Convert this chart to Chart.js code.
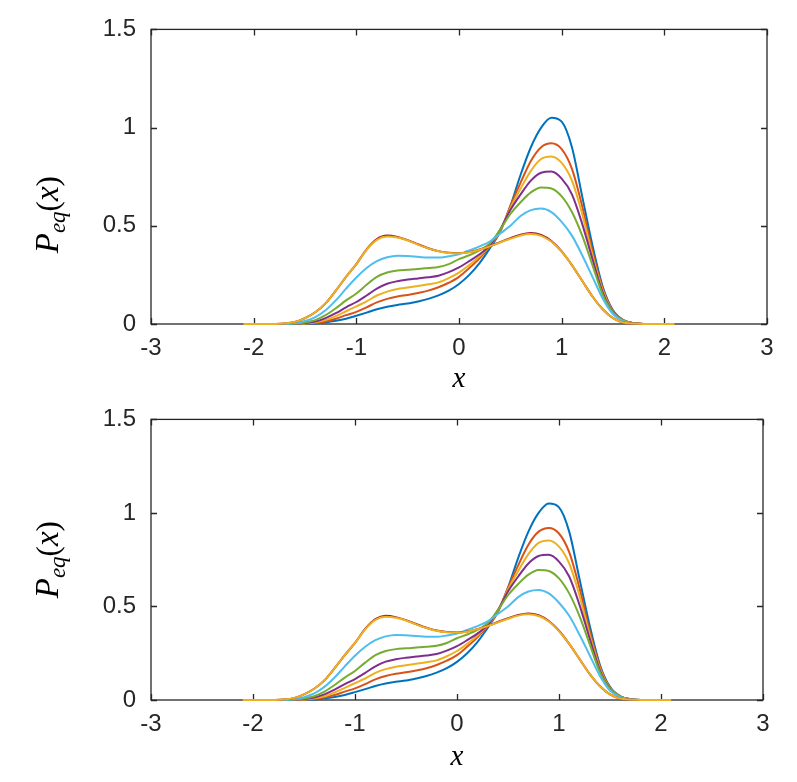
<!DOCTYPE html>
<html>
<head>
<meta charset="utf-8">
<script src="https://cdn.jsdelivr.net/npm/chart.js@4.4.0/dist/chart.umd.min.js"></script>
<style>
  html, body { margin: 0; padding: 0; background: #fff; }
  .panel { position: absolute; left: 0; width: 797px; }
</style>
</head>
<body>
<div class="panel" style="top:0;height:390px"><canvas id="top" width="797" height="390"></canvas></div>
<div class="panel" style="top:390px;height:392px"><canvas id="bottom" width="797" height="392"></canvas></div>
<script>
const xs = [-2.1, -1.9, -1.7, -1.6, -1.5, -1.4, -1.3, -1.2, -1.1, -1.0, -0.9, -0.8, -0.7, -0.6, -0.5, -0.4, -0.3, -0.2, -0.1, 0,
  0.1, 0.2, 0.3, 0.4, 0.5, 0.6, 0.7, 0.8, 0.9, 1.0, 1.1, 1.2, 1.3, 1.4, 1.5, 1.6, 1.7, 1.8, 1.9, 2.1];

const pBlue   = [0, 0, 0, 0.0005, 0.001, 0.003, 0.008, 0.016, 0.027, 0.042, 0.058, 0.075, 0.088, 0.097, 0.104, 0.115, 0.128, 0.146, 0.17, 0.204,
  0.25, 0.31, 0.385, 0.47, 0.6, 0.76, 0.9, 1.0, 1.05, 1.03, 0.9, 0.65, 0.4, 0.19, 0.07, 0.02, 0.004, 0, 0, 0];
const pRed    = [0, 0, 0, 0.001, 0.002, 0.005, 0.013, 0.027, 0.045, 0.062, 0.085, 0.11, 0.128, 0.14, 0.148, 0.158, 0.17, 0.187, 0.21, 0.24,
  0.285, 0.335, 0.395, 0.47, 0.6, 0.72, 0.83, 0.9, 0.92, 0.89, 0.79, 0.6, 0.37, 0.18, 0.065, 0.02, 0.004, 0, 0, 0];
const pYellow = [0, 0, 0, 0.001, 0.003, 0.009, 0.02, 0.04, 0.065, 0.09, 0.115, 0.145, 0.165, 0.178, 0.186, 0.194, 0.202, 0.212, 0.234, 0.262,
  0.3, 0.345, 0.4, 0.475, 0.59, 0.69, 0.78, 0.84, 0.853, 0.82, 0.73, 0.56, 0.35, 0.17, 0.062, 0.02, 0.004, 0, 0, 0];
const pPurple = [0, 0, 0, 0.001, 0.005, 0.013, 0.03, 0.055, 0.085, 0.112, 0.145, 0.18, 0.205, 0.218, 0.226, 0.232, 0.238, 0.246, 0.264, 0.288,
  0.32, 0.355, 0.4, 0.48, 0.58, 0.66, 0.73, 0.77, 0.776, 0.74, 0.66, 0.51, 0.33, 0.16, 0.06, 0.019, 0.004, 0, 0, 0];
const pGreen  = [0, 0, 0, 0.002, 0.008, 0.02, 0.045, 0.08, 0.12, 0.155, 0.2, 0.24, 0.262, 0.272, 0.276, 0.28, 0.285, 0.29, 0.305, 0.33,
  0.35, 0.375, 0.41, 0.48, 0.56, 0.62, 0.67, 0.695, 0.69, 0.65, 0.57, 0.45, 0.3, 0.15, 0.058, 0.018, 0.004, 0, 0, 0];
const pCyan   = [0, 0, 0, 0.004, 0.015, 0.035, 0.07, 0.12, 0.18, 0.237, 0.285, 0.32, 0.34, 0.348, 0.346, 0.342, 0.338, 0.338, 0.345, 0.355,
  0.375, 0.395, 0.42, 0.46, 0.5, 0.55, 0.58, 0.588, 0.57, 0.52, 0.45, 0.35, 0.24, 0.13, 0.05, 0.015, 0.003, 0, 0, 0];
const pDark   = [0, 0, 0.003, 0.01, 0.03, 0.06, 0.105, 0.17, 0.24, 0.305, 0.38, 0.432, 0.45, 0.443, 0.427, 0.406, 0.386, 0.371, 0.363, 0.361,
  0.366, 0.379, 0.396, 0.417, 0.437, 0.455, 0.463, 0.453, 0.422, 0.37, 0.3, 0.22, 0.14, 0.075, 0.03, 0.008, 0.002, 0, 0, 0];
const pLast   = [0, 0, 0.003, 0.01, 0.03, 0.06, 0.105, 0.17, 0.24, 0.305, 0.378, 0.428, 0.445, 0.44, 0.425, 0.404, 0.385, 0.37, 0.362, 0.36,
  0.365, 0.378, 0.395, 0.415, 0.434, 0.451, 0.458, 0.449, 0.42, 0.368, 0.3, 0.22, 0.14, 0.075, 0.03, 0.008, 0.002, 0, 0, 0];

const series = [pBlue, pRed, pYellow, pPurple, pGreen, pCyan, pDark, pLast];
const colors = ['#0072BD', '#D95319', '#EDB120', '#7E2F8E', '#77AC30', '#4DBEEE', '#A2142F', '#EDB120'];

const xTicks = [-3, -2, -1, 0, 1, 2, 3];
const yTicks = [0, 0.5, 1, 1.5];

const axisColor = '#262626';

// box round the axes with inward ticks on all four sides, plus the axis labels
const frame = {
  id: 'frame',
  beforeDatasetsDraw(chart) {
    const { ctx, chartArea: a, scales } = chart;
    ctx.save();
    ctx.strokeStyle = axisColor;
    ctx.lineWidth = 1.3;
    ctx.strokeRect(a.left, a.top, a.right - a.left, a.bottom - a.top);
    ctx.beginPath();
    xTicks.forEach(v => {
      const px = Math.round(scales.x.getPixelForValue(v)) + 0.5;
      ctx.moveTo(px, a.bottom); ctx.lineTo(px, a.bottom - 6);
      ctx.moveTo(px, a.top); ctx.lineTo(px, a.top + 6);
    });
    yTicks.forEach(v => {
      const py = Math.round(scales.y.getPixelForValue(v)) + 0.5;
      ctx.moveTo(a.left, py); ctx.lineTo(a.left + 6, py);
      ctx.moveTo(a.right, py); ctx.lineTo(a.right - 6, py);
    });
    ctx.stroke();
    ctx.restore();
  },
  afterDraw(chart, args, opts) {
    const { ctx, chartArea: a } = chart;
    ctx.save();
    ctx.fillStyle = '#000';
    ctx.textBaseline = 'alphabetic';
    // x label
    ctx.font = 'italic 29px "Liberation Serif"';
    ctx.textAlign = 'center';
    ctx.fillText('x', (a.left + a.right) / 2, a.bottom + opts.xLabelDy);

    // y label, rotated: P_eq(x)
    const big = 'italic 33px "Liberation Serif"';
    const sub = 'italic 23px "Liberation Serif"';
    const up = '31px "Liberation Serif"';
    const parts = [
      { t: 'P', f: big, dy: 0 },
      { t: 'eq', f: sub, dy: 7 },
      { t: '(', f: up, dy: 0 },
      { t: 'x', f: big, dy: 0 },
      { t: ')', f: up, dy: 0 }
    ];
    let total = 0;
    parts.forEach(p => { ctx.font = p.f; p.w = ctx.measureText(p.t).width; total += p.w; });
    ctx.translate(opts.yLabelX, (a.top + a.bottom) / 2 + opts.yLabelDy);
    ctx.rotate(-Math.PI / 2);
    ctx.textAlign = 'left';
    let cx = -total / 2;
    parts.forEach(p => {
      ctx.font = p.f;
      ctx.fillText(p.t, cx, 11 + p.dy);
      cx += p.w;
    });
    ctx.restore();
  }
};

function makeChart(id, pad, xAxisH, labelOpts) {
  const datasets = series.map((s, i) => ({
    data: xs.map((x, k) => ({ x: x, y: s[k] })),
    borderColor: colors[i],
    borderWidth: 2,
    pointRadius: 0,
    fill: false,
    cubicInterpolationMode: 'monotone',
    clip: false,
    order: series.length - i
  }));
  const tickFont = { family: '"Liberation Sans", Arial', size: 24 };
  return new Chart(document.getElementById(id), {
    type: 'line',
    data: { datasets: datasets },
    options: {
      responsive: false,
      animation: false,
      events: [],
      layout: { padding: pad },
      plugins: { legend: { display: false }, tooltip: { enabled: false }, frame: labelOpts },
      scales: {
        x: {
          type: 'linear', min: -3, max: 3,
          afterBuildTicks: s => { s.ticks = xTicks.map(v => ({ value: v })); },
          grid: { display: false, drawTicks: false },
          border: { display: false },
          ticks: { color: axisColor, font: tickFont, padding: 10, maxRotation: 0, callback: v => String(v) },
          afterFit: s => { s.height = xAxisH; }
        },
        y: {
          type: 'linear', min: 0, max: 1.5,
          afterBuildTicks: s => { s.ticks = yTicks.map(v => ({ value: v })); },
          grid: { display: false, drawTicks: false },
          border: { display: false },
          ticks: { color: axisColor, font: tickFont, padding: 15, callback: v => String(v) },
          afterFit: s => { s.width = 151; }
        }
      }
    },
    plugins: [frame]
  });
}

makeChart('top', { top: 25, right: 30, left: 0, bottom: 0 }, 66, { xLabelDy: 63, yLabelX: 47, yLabelDy: 38 });
makeChart('bottom', { top: 15, right: 34, left: 0, bottom: 0 }, 82, { xLabelDy: 65, yLabelX: 47, yLabelDy: 0 });
</script>
</body>
</html>
